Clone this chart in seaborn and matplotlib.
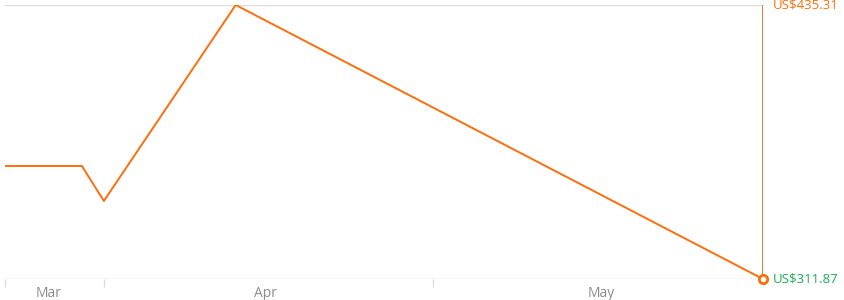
import matplotlib
matplotlib.use("Agg")
import matplotlib.pyplot as plt
import seaborn as sns
import pandas as pd

dates = ["2024-03-23", "2024-03-30", "2024-04-01", "2024-04-13", "2024-05-31"]
prices = [362.78, 362.78, 347.01, 435.31, 311.87]
month_ticks = ["2024-03-23", "2024-04-01", "2024-05-01"]
month_labels = ["Mar", "Apr", "May"]
label_pos = ["2024-03-27 00:00", "2024-04-15 18:00", "2024-05-16 06:00"]
high_label = "US$435.31"
low_label = "US$311.87"

df = pd.DataFrame({"date": pd.to_datetime(dates), "price": prices})

sns.set_theme(style="white")
plt.rcParams["font.family"] = ["Open Sans", "DejaVu Sans"]

fig = plt.figure(figsize=(8.45, 3.0), dpi=100)
ax = fig.add_axes([5/845, 21/300, 758/845, 274/300])

orange = "#ff6d0a"
sns.lineplot(data=df, x="date", y="price", ax=ax, color=orange, linewidth=1.4)

xmin = pd.Timestamp(dates[0])
xmax = pd.Timestamp(dates[-1])
ax.set_xlim(xmin, xmax)
ax.set_ylim(min(prices), max(prices))

for s in ["left", "right", "top", "bottom"]:
    ax.spines[s].set_visible(False)
ax.axhline(max(prices), color="#dddddd", lw=1, zorder=0)
ax.axhline(min(prices), color="#d8d8d8", lw=1, zorder=0)
ax.axvline(xmax, color="#d9661c", lw=1.2, zorder=3)

ax.set_xticks(pd.to_datetime(month_ticks))
ax.set_xticklabels([])
ax.tick_params(axis="x", which="major", length=6, color="#dddddd", width=1, direction="out", bottom=True)
ax.set_yticks([])
ax.set_xlabel("")
ax.set_ylabel("")

for pos, lab in zip(pd.to_datetime(label_pos), month_labels):
    ax.annotate(lab, xy=(pos, 0), xycoords=("data", "axes fraction"),
                xytext=(0, -5), textcoords="offset points", ha="center", va="top",
                color="#8c8c8c", fontsize=10)

ax.plot([xmax], [min(prices)], marker="o", markersize=6, markerfacecolor="white",
        markeredgecolor=orange, markeredgewidth=2, clip_on=False, zorder=5)

ax.annotate(high_label, xy=(1, 1), xycoords="axes fraction", xytext=(7, 0),
            textcoords="offset points", ha="left", va="center", color="#ff6d0a", fontsize=9.5)
ax.annotate(low_label, xy=(1, 0), xycoords="axes fraction", xytext=(7, 0),
            textcoords="offset points", ha="left", va="center", color="#1aaf54", fontsize=9.5)

fig.savefig("out.png", dpi=100)
